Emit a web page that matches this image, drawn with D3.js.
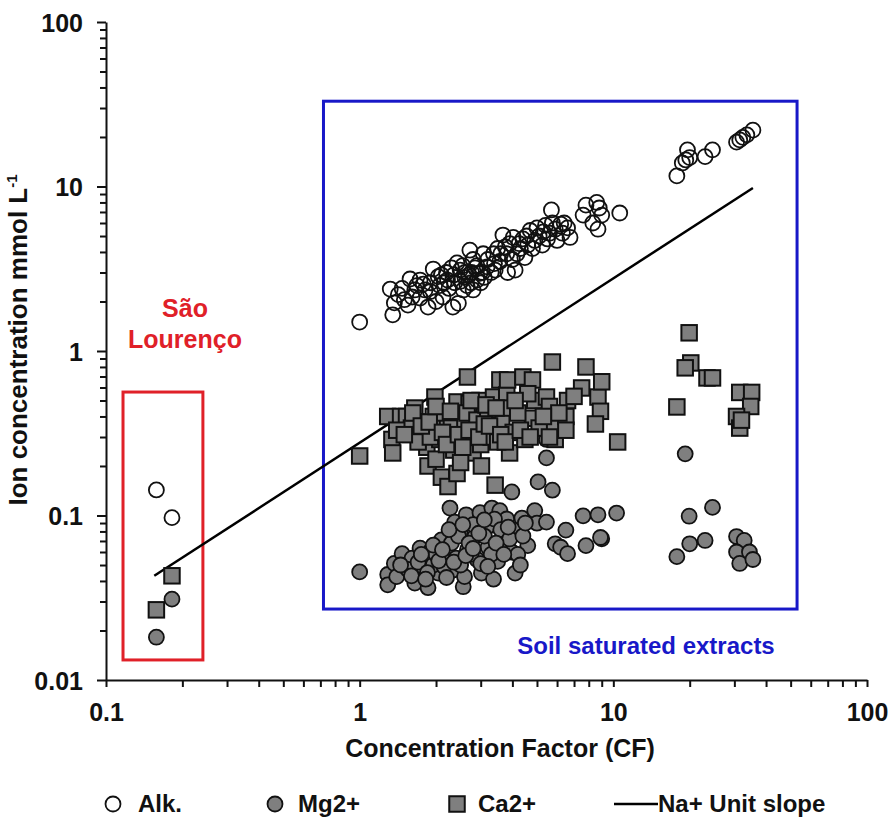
<!DOCTYPE html>
<html>
<head>
    <meta charset="utf-8" />
    <title>Ion concentration vs CF</title>
    <style>
        body {
            margin: 0;
            background: #fff;
            font-family: "Liberation Sans", Arial, Helvetica, sans-serif;
        }

        text {
            font-weight: bold;
            fill: #111;
        }

        .tick-label {
            font-size: 25px;
        }

        .axis-title {
            font-size: 25px;
        }

        .legend-label {
            font-size: 24px;
        }
    </style>
</head>
<body>
    <script src="https://d3js.org/d3.v7.min.js"></script>
    <script>
        // São Lourenço samples
        let slAlkCF = [0.158, 0.182],
            slAlk = [0.143, 0.097],
            slMgCF = [0.158, 0.182],
            slMg = [0.0182, 0.031],
            slCaCF = [0.158, 0.182],
            slCa = [0.0267, 0.043]

        // soil saturated extracts: alkalinity
        let alkCF = [1.0, 1.32, 1.37, 1.35, 1.47, 1.58, 1.65, 1.61, 1.73, 1.81, 1.86, 1.73, 1.95, 2.04, 2.07,
            2.13, 2.33, 2.22, 2.37, 2.42, 2.49, 2.56, 2.72, 2.8, 2.76, 2.8, 2.9, 2.98, 3.07, 3.18, 3.37, 3.42,
            3.57, 3.67, 3.8, 3.83, 4.03, 4.1, 4.17, 4.4, 4.48, 4.7, 4.9, 5.0, 5.25, 5.6, 5.7, 5.75, 6.0, 6.3,
            6.6, 6.75, 7.8, 7.6, 8.6, 8.7, 9.0, 10.6,
            1.9, 2.1, 2.25, 2.6, 2.65, 2.7, 2.85, 3.0, 3.1, 3.3, 3.5, 3.9, 4.3, 4.6, 5.1, 5.4, 6.2, 8.3, 8.8,
            1.5, 2.0, 2.45, 1.78, 2.3, 2.5,
            1.42, 1.55, 1.68, 1.9, 2.15, 2.2, 2.35, 2.55, 2.6, 2.75, 2.9, 3.05, 3.2, 3.4, 3.6, 3.75, 4.0,
            4.25, 4.55, 4.8, 5.3, 5.5, 5.9, 6.4,
            17.8, 18.7, 19.6, 20, 19.3, 23, 24.6, 30.6, 31.5, 32.4, 33.6, 35.5]
        let alk = [1.5, 2.38, 1.96, 1.66, 2.4, 2.74, 2.35, 2.13, 2.7, 2.35, 1.85, 2.1, 3.15, 2.83, 2.5,
            2.13, 1.85, 2.7, 2.6, 3.43, 3.1, 2.35, 4.1, 3.6, 3.0, 2.35, 2.7, 2.97, 3.9, 3.25, 3.9, 3.1,
            3.5, 5.07, 3.9, 3.0, 4.9, 3.1, 3.9, 4.8, 3.7, 5.4, 4.7, 5.6, 4.4, 5.2, 7.2, 6.0, 4.7, 5.2,
            5.6, 4.9, 7.7, 6.7, 8.0, 5.5, 6.7, 6.9,
            2.6, 2.9, 2.4, 2.8, 2.5, 2.9, 3.2, 2.6, 2.8, 3.0, 4.2, 4.5, 4.2, 4.4, 5.0, 5.8, 5.9, 6.0, 7.4,
            2.05, 2.0, 1.95, 2.55, 3.2, 2.65,
            2.2, 1.9, 2.5, 2.3, 2.6, 3.0, 2.9, 3.3, 3.0, 2.6, 3.3, 3.0, 3.6, 3.4, 3.9, 4.3, 3.6,
            4.5, 5.0, 4.2, 5.3, 4.8, 5.5, 6.0,
            11.6, 13.9, 16.7, 15, 14.5, 15.2, 16.7, 18.6, 19.2, 19.9, 20.6, 22]

        // soil saturated extracts: Mg2+
        let mgCF = [1.0, 1.29, 1.29, 1.37, 1.47, 1.4, 1.61, 1.65, 1.73, 1.78, 1.86, 1.92, 2.04, 2.1, 2.22,
            2.27, 2.33, 2.37, 2.49, 2.56, 2.59, 2.63, 2.66, 2.85, 2.9, 2.98, 3.02, 3.18, 3.21, 3.32, 3.37,
            3.5, 3.57, 3.67, 3.8, 3.98, 3.98, 4.1, 4.1, 4.36, 4.6, 4.9, 5.0, 5.05, 5.45, 5.75, 5.45, 5.45,
            5.9, 6.2, 6.5, 6.6, 7.6, 7.8, 8.7, 9.0, 8.9, 10.3,
            1.55, 1.7, 1.95, 2.0, 2.15, 2.3, 2.4, 2.45, 2.7, 2.75, 2.8, 3.1, 3.3, 3.4, 3.6, 3.9, 4.2, 4.4,
            2.2, 1.85, 2.5, 3.0,
            1.45, 1.6, 1.75, 1.82, 1.95, 2.05, 2.12, 2.25, 2.35, 2.55, 2.62, 2.8, 2.95, 3.1, 3.2, 3.45,
            3.7, 3.85, 4.5, 4.3,
            19.2, 19.9, 24.6, 20, 23, 17.8, 30.6, 32.8, 30.6, 34.4, 31.5, 35.5]
        let mg = [0.0454, 0.0438, 0.0379, 0.0511, 0.0586, 0.0425, 0.055, 0.0388, 0.0633, 0.0487, 0.0364,
            0.062, 0.0446, 0.071, 0.0575, 0.111, 0.0465, 0.0912, 0.0795, 0.0369, 0.0425, 0.101, 0.062,
            0.0745, 0.054, 0.104, 0.0446, 0.0852, 0.0641, 0.111, 0.041, 0.0526, 0.107, 0.0688, 0.0952,
            0.139, 0.06, 0.0815, 0.0446, 0.0965, 0.0656, 0.107, 0.0898, 0.16, 0.0912, 0.1425, 0.224, 0.29,
            0.0673, 0.0641, 0.0815, 0.0586, 0.0995, 0.0656, 0.101, 0.0722, 0.0735, 0.1035,
            0.047, 0.052, 0.05, 0.058, 0.049, 0.068, 0.055, 0.075, 0.068, 0.058, 0.088, 0.075, 0.058, 0.095,
            0.082, 0.072, 0.058, 0.075, 0.042, 0.045, 0.05, 0.051,
            0.05, 0.043, 0.058, 0.041, 0.066, 0.053, 0.062, 0.082, 0.052, 0.088, 0.057, 0.063, 0.078,
            0.094, 0.049, 0.068, 0.058, 0.085, 0.09, 0.05,
            0.237, 0.099, 0.112, 0.0673, 0.0705, 0.0562, 0.0745, 0.0705, 0.06, 0.06, 0.0511, 0.054]

        // soil saturated extracts: Ca2+
        let caCF = [1.0, 1.29, 1.34, 1.35, 1.45, 1.53, 1.65, 1.73, 1.81, 1.84, 1.86, 1.98, 1.95, 2.04, 2.07,
            2.1, 2.23, 2.22, 2.3, 2.42, 2.42, 2.49, 2.56, 2.66, 2.7, 2.8, 2.98, 3.02, 3.07, 3.37, 3.37, 3.42,
            3.57, 3.63, 3.8, 3.83, 3.9, 4.03, 4.4, 4.48, 4.8, 4.8, 4.9, 5.45, 5.6, 5.75, 5.9, 5.75, 6.5, 6.6,
            6.5, 7.5, 7.8, 8.7, 9.0, 8.9, 10.4,
            1.6, 1.7, 1.9, 2.15, 2.3, 2.35, 2.6, 2.65, 2.9, 3.0, 3.2, 3.3, 3.5, 3.7, 4.2, 4.6, 5.1, 6.1, 7.0,
            8.5, 1.4, 2.0, 2.5,
            1.5, 1.62, 1.75, 1.88, 2.0, 2.12, 2.2, 2.28, 2.45, 2.55, 2.7, 2.75, 2.95, 3.1, 3.15, 3.25,
            3.45, 3.6, 3.75, 4.1, 4.3, 4.7, 5.3, 5.6,
            19.9, 20.2, 19.2, 23.4, 24.6, 17.8, 31.5, 35.1, 34.8, 30.6, 31.5, 32]
        let ca = [0.23, 0.40, 0.29, 0.24, 0.40, 0.40, 0.45, 0.37, 0.33, 0.26, 0.20, 0.525, 0.40, 0.35, 0.29,
            0.171, 0.15, 0.37, 0.29, 0.49, 0.18, 0.37, 0.30, 0.695, 0.48, 0.24, 0.50, 0.20, 0.32, 0.525, 0.40,
            0.153, 0.667, 0.37, 0.54, 0.667, 0.24, 0.32, 0.695, 0.29, 0.667, 0.39, 0.5, 0.525, 0.46, 0.857,
            0.29, 0.36, 0.40, 0.5, 0.33, 0.596, 0.8, 0.525, 0.65, 0.43, 0.28,
            0.34, 0.28, 0.30, 0.42, 0.34, 0.25, 0.35, 0.42, 0.38, 0.27, 0.44, 0.30, 0.28, 0.45, 0.42, 0.55,
            0.34, 0.42, 0.53, 0.36, 0.33, 0.22, 0.21,
            0.31, 0.42, 0.35, 0.37, 0.46, 0.32, 0.27, 0.43, 0.31, 0.26, 0.33, 0.5, 0.3, 0.36, 0.47, 0.35,
            0.45, 0.31, 0.28, 0.5, 0.33, 0.3, 0.4, 0.3,
            1.29, 0.846, 0.79, 0.686, 0.686, 0.457, 0.56, 0.56, 0.46, 0.40, 0.34, 0.38]

        // Na+ unit slope line
        let naCF = [0.155, 35.5],
            na = [0.043, 9.8]

        let xTicks = [0.1, 1, 10, 100],
            yTicks = [0.01, 0.1, 1, 10, 100]

        // annotation boxes (data units): [x0, x1, y0, y1]
        let saoBox = [0.1167, 0.241, 0.01324, 0.563],
            soilBox = [0.72, 53, 0.027, 33]

        let legendLabels = ['Alk.', 'Mg2+', 'Ca2+', 'Na+ Unit slope']

        let width = 893,
            height = 820,
            markR = 7.5,
            sq = 15.5,
            gray = '#7f7f7f',
            blue = '#1818c8',
            red = '#e02028'

        let x = d3.scaleLog().domain([0.1, 100]).range([106, 867])
        let y = d3.scaleLog().domain([0.01, 100]).range([680, 22])

        let svg = d3.select('body')
                    .append('svg')
                    .attr('width', width)
                    .attr('height', height)

        function zip(a, b) {
            return a.map(function (v, i) { return [v, b[i]] })
        }

        function minors(lo, hi) {
            let out = []
            for (let e = lo; e < hi; e++) {
                for (let k = 1; k < 10; k++) out.push(k * Math.pow(10, e))
            }
            out.push(Math.pow(10, hi))
            return out
        }

        // boxes
        svg.append('rect')
            .attr('x', x(saoBox[0]))
            .attr('y', y(saoBox[3]))
            .attr('width', x(saoBox[1]) - x(saoBox[0]))
            .attr('height', y(saoBox[2]) - y(saoBox[3]))
            .attr('fill', 'none')
            .attr('stroke', red)
            .attr('stroke-width', 3)

        svg.append('rect')
            .attr('x', x(soilBox[0]))
            .attr('y', y(soilBox[3]))
            .attr('width', x(soilBox[1]) - x(soilBox[0]))
            .attr('height', y(soilBox[2]) - y(soilBox[3]))
            .attr('fill', 'none')
            .attr('stroke', blue)
            .attr('stroke-width', 3)

        svg.append('text')
            .attr('x', 185)
            .attr('y', 317)
            .attr('text-anchor', 'middle')
            .style('fill', red)
            .style('font-size', '25px')
            .selectAll('tspan')
            .data(['São', 'Lourenço'])
            .enter()
                .append('tspan')
                .attr('x', 185)
                .attr('dy', function (d, i) { return i ? 31 : 0 })
                .text(function (d) { return d })

        svg.append('text')
            .attr('x', 646)
            .attr('y', 654)
            .attr('text-anchor', 'middle')
            .style('fill', blue)
            .style('font-size', '24px')
            .text('Soil saturated extracts')

        // axes
        let xAxis = d3.axisBottom(x)
                        .tickValues(minors(-1, 2))
                        .tickSize(7)
                        .tickSizeOuter(0)
                        .tickFormat(function (d) { return xTicks.indexOf(d) >= 0 ? String(d) : '' })

        let gx = svg.append('g')
                    .attr('transform', 'translate(0, 680)')
                    .call(xAxis)
        gx.selectAll('text')
            .classed('tick-label', true)
            .attr('y', 41)
            .attr('dy', 0)
            .attr('font-family', null)
            .attr('font-size', null)
            .attr('fill', null)

        let yAxis = d3.axisLeft(y)
                        .tickValues(minors(-2, 2))
                        .tickSize(6)
                        .tickSizeOuter(0)
                        .tickFormat(function (d) { return yTicks.indexOf(d) >= 0 ? String(d) : '' })

        let gy = svg.append('g')
                    .attr('transform', 'translate(106, 0)')
                    .call(yAxis)
        gy.selectAll('text')
            .classed('tick-label', true)
            .attr('x', -23)
            .attr('dy', '0.36em')
            .attr('font-family', null)
            .attr('font-size', null)
            .attr('fill', null)
        gy.selectAll('.tick line')
            .attr('x2', function (d) { return yTicks.indexOf(d) >= 0 ? -9 : -6 })

        svg.selectAll('.domain, .tick line')
            .attr('stroke', '#111')
            .attr('stroke-width', 2)

        svg.append('text')
            .classed('axis-title', true)
            .attr('x', 500)
            .attr('y', 757)
            .attr('text-anchor', 'middle')
            .text('Concentration Factor (CF)')

        let yTitle = svg.append('text')
                        .classed('axis-title', true)
                        .style('font-size', '26px')
                        .attr('transform', 'translate(27, 340) rotate(-90)')
                        .attr('text-anchor', 'middle')
        yTitle.append('tspan').text('Ion concentration mmol L')
        yTitle.append('tspan')
            .attr('dy', -10)
            .style('font-size', '15px')
            .text('-1')

        // Na+ line
        let line = d3.line()
                    .x(function (d) { return x(d[0]) })
                    .y(function (d) { return y(d[1]) })

        svg.append('path')
            .datum(zip(naCF, na))
            .attr('d', line)
            .attr('fill', 'none')
            .attr('stroke', '#000')
            .attr('stroke-width', 2.5)

        // markers
        function circles(data, fill) {
            svg.append('g')
                .selectAll('circle')
                .data(data)
                .enter()
                    .append('circle')
                    .attr('cx', function (d) { return x(d[0]) })
                    .attr('cy', function (d) { return y(d[1]) })
                    .attr('r', markR)
                    .attr('fill', fill)
                    .attr('stroke', '#111')
                    .attr('stroke-width', 1.8)
        }

        function squares(data) {
            svg.append('g')
                .selectAll('rect')
                .data(data)
                .enter()
                    .append('rect')
                    .attr('x', function (d) { return x(d[0]) - sq / 2 })
                    .attr('y', function (d) { return y(d[1]) - sq / 2 })
                    .attr('width', sq)
                    .attr('height', sq)
                    .attr('fill', gray)
                    .attr('stroke', '#111')
                    .attr('stroke-width', 2)
        }

        circles(zip(slAlkCF, slAlk).concat(zip(alkCF, alk)), 'none')
        circles(zip(slMgCF, slMg).concat(zip(mgCF, mg)), gray)
        squares(zip(slCaCF, slCa).concat(zip(caCF, ca)))

        // legend
        let legendY = 804
        let legend = svg.append('g')

        legend.append('circle')
            .attr('cx', 113).attr('cy', legendY).attr('r', markR)
            .attr('fill', 'none').attr('stroke', '#111').attr('stroke-width', 1.8)
        legend.append('circle')
            .attr('cx', 275).attr('cy', legendY).attr('r', markR)
            .attr('fill', gray).attr('stroke', '#111').attr('stroke-width', 1.8)
        legend.append('rect')
            .attr('x', 457 - sq / 2).attr('y', legendY - sq / 2)
            .attr('width', sq).attr('height', sq)
            .attr('fill', gray).attr('stroke', '#111').attr('stroke-width', 2)
        legend.append('line')
            .attr('x1', 614).attr('x2', 658)
            .attr('y1', legendY).attr('y2', legendY)
            .attr('stroke', '#000').attr('stroke-width', 2.5)

        legend.selectAll('text')
            .data(legendLabels)
            .enter()
                .append('text')
                .classed('legend-label', true)
                .attr('x', function (d, i) { return [138, 298, 478, 658][i] })
                .attr('y', legendY + 8)
                .text(function (d) { return d })
    </script>
</body>
</html>
